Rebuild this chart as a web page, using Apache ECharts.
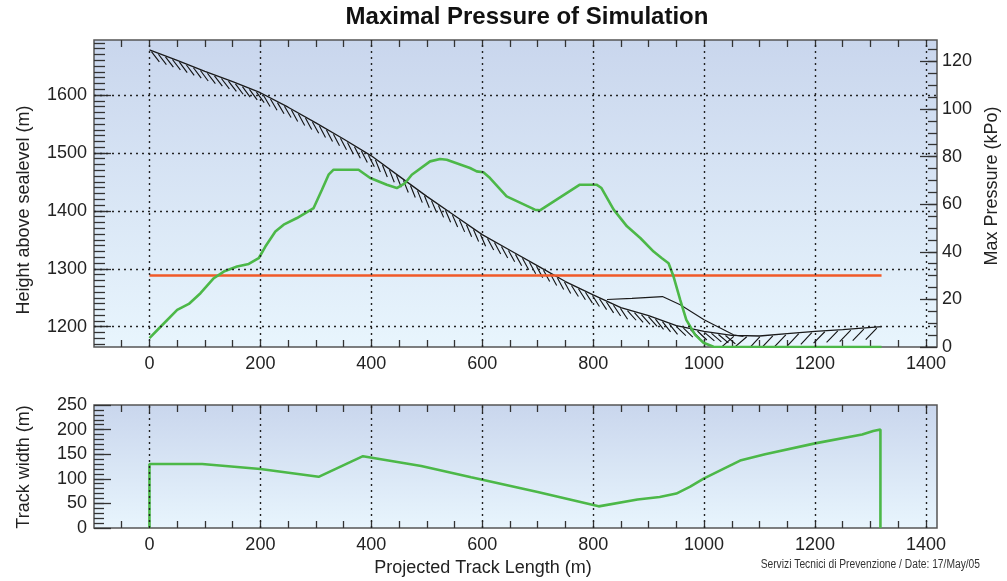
<!DOCTYPE html>
<html>
<head>
<meta charset="utf-8">
<title>Maximal Pressure of Simulation</title>
<script src="https://cdn.jsdelivr.net/npm/echarts@6/dist/echarts.min.js"></script>
<style>
  html, body { margin: 0; padding: 0; background: #fff; }
  #chart { width: 1007px; height: 581px; }
</style>
</head>
<body>
<div id="chart"></div>
<script>
// terrain profile along the track (x = projected length in m, h = height in m)
const terrainX = [0, 50, 100, 150, 200, 250, 300, 350, 400, 450, 500, 550, 600, 650, 700, 750, 800, 850, 900, 950, 1000, 1050, 1100, 1150, 1200, 1250, 1320]
const terrainH = [1678, 1660, 1641, 1623, 1604, 1579, 1552, 1524, 1495, 1460, 1425, 1392, 1359, 1332, 1305, 1278, 1255, 1233, 1219, 1202, 1192, 1185, 1184, 1188, 1192, 1195, 1200]

// deposit surface at the runout
const depositX = [825, 870, 925, 957, 1000, 1053, 1071]
const depositH = [1247, 1249, 1252, 1238, 1212, 1186, 1183]

// max pressure (kPa)
const pressureX = [0, 20, 50, 71, 92, 116, 134, 158, 179, 197, 209, 227, 242, 266, 296, 311, 323, 332, 377, 398, 428, 446, 461, 473, 506, 524, 536, 578, 590, 602, 614, 644, 695, 704, 776, 806, 815, 837, 861, 885, 909, 924, 936, 945, 957, 968, 984, 999, 1017, 1320]
const pressureKPa = [3.7, 8.5, 15.6, 18.1, 22.6, 28.9, 31.7, 33.8, 34.9, 37.3, 42.2, 48.5, 51.4, 54.2, 58.4, 66.1, 72.4, 74.5, 74.5, 71, 68.2, 66.8, 68.9, 72.4, 78, 79, 78.7, 75.2, 73.8, 73.4, 71, 63.3, 57.7, 57.4, 68.2, 68.2, 66.8, 57.7, 50.7, 45.8, 40.1, 37.3, 35.2, 29.6, 19.8, 11.4, 5.1, 1.8, 0.1, 0]

// pressure threshold
const thresholdX = [0, 1320]
const thresholdKPa = [30, 30]

// track width (m)
const widthX = [0, 0, 95, 200, 305, 385, 490, 580, 700, 810, 880, 920, 950, 975, 1000, 1065, 1110, 1200, 1285, 1305, 1318, 1318]
const widthM = [0, 130, 130, 120, 104, 146, 126, 103, 73, 44, 58, 63, 70, 84, 101, 137, 150, 172, 190, 197, 200, 0]

// tick labels
const lengthTicks = [0, 200, 400, 600, 800, 1000, 1200, 1400]
const heightTicks = [1200, 1300, 1400, 1500, 1600]
const pressureTicks = [0, 20, 40, 60, 80, 100, 120]
const widthTicks = [0, 50, 100, 150, 200, 250]

const hatchSplit = 1050
const font = '"Liberation Sans", Arial, sans-serif'
const green = '#4cb848'
const red = '#f15a29'

function range(a, b, step) {
  const r = []
  for (let v = a; v <= b + 1e-9; v += step) r.push(Math.round(v * 100) / 100)
  return r
}
function zip(xs, ys) {
  return xs.map((x, i) => [x, ys[i]])
}

const bg = {
  type: 'linear', x: 0, y: 0, x2: 0, y2: 1,
  colorStops: [{ offset: 0, color: '#c9d6ed' }, { offset: 1, color: '#e8f5fd' }]
}
const tickLine = { color: '#333', width: 1.3 }
const gridDots = { color: '#222', type: [2, 4], width: 1.4 }
const plain = v => String(v)

function xPair(grid) {
  const base = {
    gridIndex: grid, type: 'value', min: -100, max: 1420,
    axisLine: { show: false, onZero: false },
    splitLine: { show: false },
    axisTick: { inside: true, length: 7, customValues: range(-50, 1400, 50), lineStyle: tickLine }
  }
  return [
    { ...base, position: 'bottom',
      axisLabel: { customValues: lengthTicks, formatter: plain, fontSize: 18, color: '#222', margin: 8, fontFamily: font } },
    { ...base, position: 'top', axisLabel: { show: false } }
  ]
}
function yAxis(grid, pos, min, max, ticks, len, labels, margin) {
  return {
    gridIndex: grid, type: 'value', position: pos, min: min, max: max,
    axisLine: { show: false, onZero: false },
    splitLine: { show: false },
    axisTick: { inside: true, length: len, customValues: ticks, lineStyle: tickLine },
    axisLabel: labels
      ? { customValues: labels, formatter: plain, fontSize: 18, color: '#222', margin: margin, fontFamily: font }
      : { show: false }
  }
}

// split terrain for the two hatch directions
const iA = terrainX.filter(x => x <= hatchSplit).length
const xA = terrainX.slice(0, iA), hA = terrainH.slice(0, iA)
const xB = terrainX.slice(iA - 1), hB = terrainH.slice(iA - 1)

// short hatch strokes hanging below the ground line
// turn: stroke angle relative to the line direction (deg), len/step in px
function hatchSeries(xs, hs, step, len, turn) {
  return {
    type: 'custom', xAxisIndex: 0, yAxisIndex: 0, clip: true, silent: true,
    data: [[xs[0], hs[0]]],
    renderItem: function (params, api) {
      const pts = xs.map((x, i) => api.coord([x, hs[i]]))
      const kids = []
      let seg = 0
      for (let px = pts[0][0] + 2; px < pts[pts.length - 1][0] - 1; px += step) {
        while (pts[seg + 1][0] < px) seg++
        const a = pts[seg], b = pts[seg + 1]
        const t = (px - a[0]) / (b[0] - a[0])
        const py = a[1] + t * (b[1] - a[1])
        const ang = Math.atan2(b[1] - a[1], b[0] - a[0]) + turn * Math.PI / 180
        kids.push({
          type: 'line',
          shape: { x1: px, y1: py + 1, x2: px + len * Math.cos(ang), y2: py + 1 + len * Math.sin(ang) },
          style: { stroke: '#111', lineWidth: 1.1 }
        })
      }
      return { type: 'group', children: kids }
    }
  }
}

const chart = echarts.init(document.getElementById('chart'), null, { renderer: 'canvas' })

chart.setOption({
  animation: false,
  backgroundColor: '#fff',
  grid: [
    { left: 94, right: 70, top: 40, height: 307, show: true, backgroundColor: bg, borderColor: '#555', borderWidth: 1.5 },
    { left: 94, right: 70, top: 405, height: 123, show: true, backgroundColor: bg, borderColor: '#555', borderWidth: 1.5 }
  ],
  xAxis: [...xPair(0), ...xPair(1)],
  yAxis: [
    yAxis(0, 'left', 1165, 1695, heightTicks, 17, heightTicks, 7),
    yAxis(0, 'right', 0, 129, pressureTicks, 17, pressureTicks, 5),
    yAxis(0, 'left', 1165, 1695, range(1170, 1690, 10), 11, null),
    yAxis(0, 'right', 0, 129, range(5, 125, 5), 9, null),
    yAxis(1, 'left', 0, 250, widthTicks, 17, widthTicks, 7),
    yAxis(1, 'left', 0, 250, range(10, 240, 10), 10, null)
  ],
  series: [
    hatchSeries(xA, hA, 7, 13, 32),
    hatchSeries(xB, hB, 13, 16, 138),
    {
      type: 'line', name: 'terrain', xAxisIndex: 0, yAxisIndex: 0,
      data: zip(terrainX, terrainH), symbol: 'none',
      lineStyle: { color: '#1a1a1a', width: 1.3 },
      markLine: {
        silent: true, symbol: 'none', label: { show: false }, lineStyle: gridDots,
        data: [...lengthTicks.map(v => ({ xAxis: v })), ...heightTicks.map(v => ({ yAxis: v }))]
      }
    },
    {
      type: 'line', name: 'deposit', xAxisIndex: 0, yAxisIndex: 0,
      data: zip(depositX, depositH), symbol: 'none',
      lineStyle: { color: '#1a1a1a', width: 1.1 }
    },
    {
      type: 'line', name: 'threshold', xAxisIndex: 0, yAxisIndex: 1,
      data: zip(thresholdX, thresholdKPa), symbol: 'none',
      lineStyle: { color: red, width: 2.5 }
    },
    {
      type: 'line', name: 'pressure', xAxisIndex: 0, yAxisIndex: 1,
      data: zip(pressureX, pressureKPa), symbol: 'none',
      lineStyle: { color: green, width: 2.6 }
    },
    {
      type: 'line', name: 'width', xAxisIndex: 2, yAxisIndex: 4,
      data: zip(widthX, widthM), symbol: 'none',
      lineStyle: { color: green, width: 2.6 },
      markLine: {
        silent: true, symbol: 'none', label: { show: false }, lineStyle: gridDots,
        data: lengthTicks.map(v => ({ xAxis: v }))
      }
    }
  ],
  graphic: [
    { type: 'text', x: 527, y: 17,
      style: { text: 'Maximal Pressure of Simulation', font: 'bold 24px ' + font, fill: '#111',
        align: 'center', verticalAlign: 'middle', textAlign: 'center', textVerticalAlign: 'middle' } },
    { type: 'text', x: 24, y: 210, rotation: Math.PI / 2,
      style: { text: 'Height above sealevel (m)', font: '18px ' + font, fill: '#222',
        align: 'center', verticalAlign: 'middle', textAlign: 'center', textVerticalAlign: 'middle' } },
    { type: 'text', x: 992, y: 186, rotation: Math.PI / 2,
      style: { text: 'Max Pressure (kPo)', font: '18px ' + font, fill: '#222',
        align: 'center', verticalAlign: 'middle', textAlign: 'center', textVerticalAlign: 'middle' } },
    { type: 'text', x: 24, y: 467, rotation: Math.PI / 2,
      style: { text: 'Track width (m)', font: '18px ' + font, fill: '#222',
        align: 'center', verticalAlign: 'middle', textAlign: 'center', textVerticalAlign: 'middle' } },
    { type: 'text', x: 483, y: 568,
      style: { text: 'Projected Track Length (m)', font: '18px ' + font, fill: '#222',
        align: 'center', verticalAlign: 'middle', textAlign: 'center', textVerticalAlign: 'middle' } },
    { type: 'text', x: 980, y: 565, scaleX: 0.82,
      style: { text: 'Servizi Tecnici di Prevenzione / Date: 17/May/05', font: '12.5px ' + font, fill: '#333',
        align: 'right', verticalAlign: 'middle', textAlign: 'right', textVerticalAlign: 'middle' } }
  ]
})
</script>
</body>
</html>
